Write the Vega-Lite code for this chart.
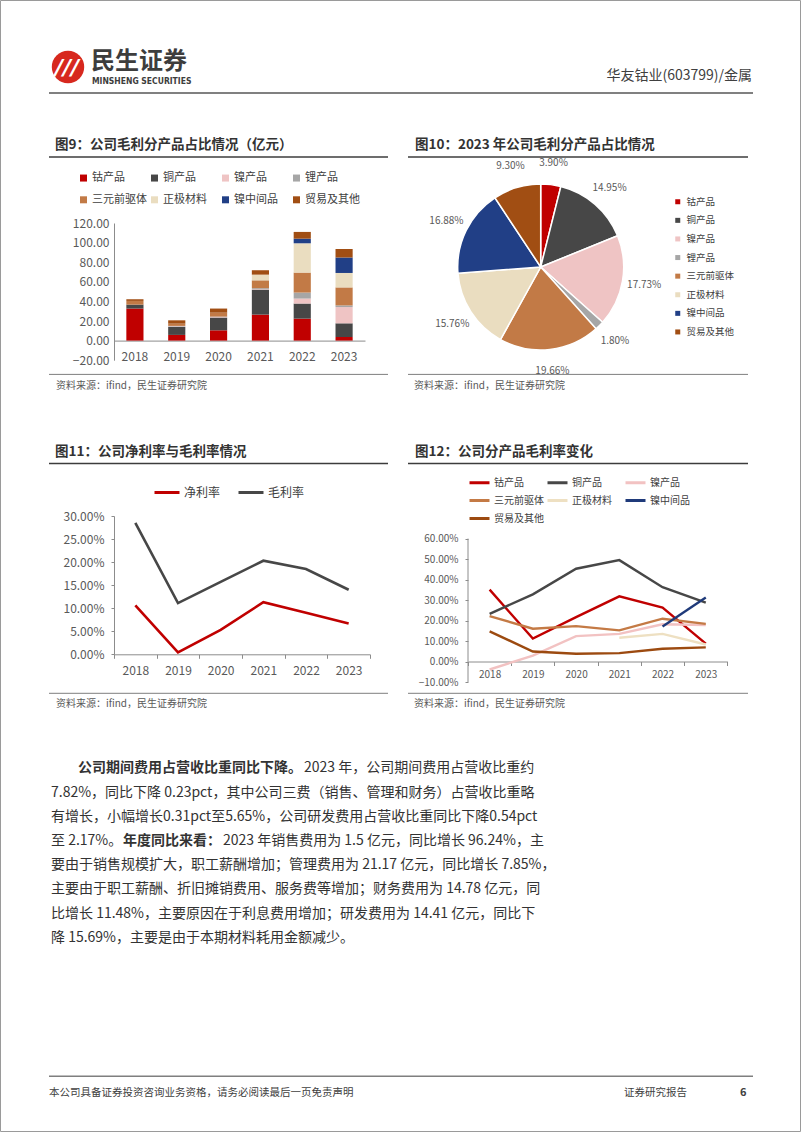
{
  "$schema": "https://vega.github.io/schema/vega-lite/v6.json",
  "padding": 0,
  "background": "white",
  "columns": 4,
  "spacing": 0,
  "bounds": "flush",
  "align": "each",
  "resolve": {"scale": {"color": "independent", "x": "independent", "y": "independent"}, "legend": {"color": "independent"}},
  "config": {
    "view": {"stroke": null},
    "font": "Noto Sans CJK SC",
    "axis": {"labelFont": "Noto Sans CJK SC", "labelOverlap": false},
    "legend": {"labelFont": "Noto Sans CJK SC", "padding": 0}
  },
  "concat": [
    {
      "width": 114, "height": 222.7,
      "layer": [
        {"data": {"values": [{"k": 1}]}, "mark": {"type": "rect", "filled": false, "stroke": "#9a9a9a", "strokeWidth": 1}, "encoding": {"x": {"value": 0.5}, "x2": {"value": 800.5}, "y": {"value": 0.5}, "y2": {"value": 1131.5}}},
        {"data": {"values": [{"k": 1}]}, "mark": {"type": "point", "filled": true, "color": "#D7281E", "size": 1050, "opacity": 1}, "encoding": {"x": {"value": 68}, "y": {"value": 67}}},
        {"data": {"values": [{"t": "///"}]}, "mark": {"type": "text", "align": "center", "baseline": "middle", "fontSize": 22, "fontWeight": "bold", "fontStyle": "italic", "color": "white", "font": "DejaVu Sans"}, "encoding": {"text": {"field": "t"}, "x": {"value": 67}, "y": {"value": 68}}},
        {"data": {"values": [{"t": "民生证券"}]}, "mark": {"type": "text", "align": "left", "baseline": "middle", "fontSize": 24, "fontWeight": "bold", "color": "#3d3d3d"}, "encoding": {"text": {"field": "t"}, "x": {"value": 91}, "y": {"value": 62}}},
        {"data": {"values": [{"t": "MINSHENG SECURITIES"}]}, "mark": {"type": "text", "align": "left", "baseline": "middle", "fontSize": 8.5, "fontWeight": "bold", "color": "#3d3d3d", "font": "DejaVu Sans Condensed, DejaVu Sans"}, "encoding": {"text": {"field": "t"}, "x": {"value": 92}, "y": {"value": 81}}},
        {"data": {"values": [{"t": "华友钴业(603799)/金属"}]}, "mark": {"type": "text", "align": "right", "baseline": "middle", "fontSize": 14, "color": "#404040"}, "encoding": {"text": {"field": "t"}, "x": {"value": 752}, "y": {"value": 76}}},
        {"data": {"values": [{"k": 1}]}, "mark": {"type": "rule", "color": "#808080", "strokeWidth": 2}, "encoding": {"x": {"value": 49}, "x2": {"value": 753}, "y": {"value": 93}}},

        {"data": {"values": [{"t": "图9：公司毛利分产品占比情况（亿元）"}]}, "mark": {"type": "text", "align": "left", "baseline": "middle", "fontSize": 13.5, "fontWeight": "bold", "color": "#333333"}, "encoding": {"text": {"field": "t"}, "x": {"value": 55}, "y": {"value": 145}}},
        {"data": {"values": [{"k": 1}]}, "mark": {"type": "rule", "color": "#3c3c3c", "strokeWidth": 1.5}, "encoding": {"x": {"value": 49}, "x2": {"value": 388}, "y": {"value": 157}}},
        {"data": {"values": [{"t": "图10：2023 年公司毛利分产品占比情况"}]}, "mark": {"type": "text", "align": "left", "baseline": "middle", "fontSize": 13.5, "fontWeight": "bold", "color": "#333333"}, "encoding": {"text": {"field": "t"}, "x": {"value": 415}, "y": {"value": 145}}},
        {"data": {"values": [{"k": 1}]}, "mark": {"type": "rule", "color": "#3c3c3c", "strokeWidth": 1.5}, "encoding": {"x": {"value": 408}, "x2": {"value": 748}, "y": {"value": 157}}},

        {"data": {"values": [{"k": 1}]}, "mark": {"type": "rule", "color": "#7f7f7f", "strokeWidth": 1}, "encoding": {"x": {"value": 49}, "x2": {"value": 388}, "y": {"value": 374.4}}},
        {"data": {"values": [{"k": 1}]}, "mark": {"type": "rule", "color": "#7f7f7f", "strokeWidth": 1}, "encoding": {"x": {"value": 408}, "x2": {"value": 748}, "y": {"value": 374.4}}},
        {"data": {"values": [{"t": "资料来源：ifind，民生证券研究院"}]}, "mark": {"type": "text", "align": "left", "baseline": "middle", "fontSize": 10, "color": "#595959"}, "encoding": {"text": {"field": "t"}, "x": {"value": 56}, "y": {"value": 386}}},
        {"data": {"values": [{"t": "资料来源：ifind，民生证券研究院"}]}, "mark": {"type": "text", "align": "left", "baseline": "middle", "fontSize": 10, "color": "#595959"}, "encoding": {"text": {"field": "t"}, "x": {"value": 414}, "y": {"value": 386}}},

        {"data": {"values": [{"t": "图11：公司净利率与毛利率情况"}]}, "mark": {"type": "text", "align": "left", "baseline": "middle", "fontSize": 13.5, "fontWeight": "bold", "color": "#333333"}, "encoding": {"text": {"field": "t"}, "x": {"value": 55}, "y": {"value": 452}}},
        {"data": {"values": [{"k": 1}]}, "mark": {"type": "rule", "color": "#3c3c3c", "strokeWidth": 1.5}, "encoding": {"x": {"value": 49}, "x2": {"value": 388}, "y": {"value": 463.5}}},
        {"data": {"values": [{"t": "图12：公司分产品毛利率变化"}]}, "mark": {"type": "text", "align": "left", "baseline": "middle", "fontSize": 13.5, "fontWeight": "bold", "color": "#333333"}, "encoding": {"text": {"field": "t"}, "x": {"value": 415}, "y": {"value": 452}}},
        {"data": {"values": [{"k": 1}]}, "mark": {"type": "rule", "color": "#3c3c3c", "strokeWidth": 1.5}, "encoding": {"x": {"value": 408}, "x2": {"value": 748}, "y": {"value": 463.5}}},

        {"data": {"values": [{"k": 1}]}, "mark": {"type": "rule", "color": "#7f7f7f", "strokeWidth": 1}, "encoding": {"x": {"value": 49}, "x2": {"value": 388}, "y": {"value": 693.3}}},
        {"data": {"values": [{"k": 1}]}, "mark": {"type": "rule", "color": "#7f7f7f", "strokeWidth": 1}, "encoding": {"x": {"value": 408}, "x2": {"value": 748}, "y": {"value": 693.3}}},
        {"data": {"values": [{"t": "资料来源：ifind，民生证券研究院"}]}, "mark": {"type": "text", "align": "left", "baseline": "middle", "fontSize": 10, "color": "#595959"}, "encoding": {"text": {"field": "t"}, "x": {"value": 56}, "y": {"value": 704.2}}},
        {"data": {"values": [{"t": "资料来源：ifind，民生证券研究院"}]}, "mark": {"type": "text", "align": "left", "baseline": "middle", "fontSize": 10, "color": "#595959"}, "encoding": {"text": {"field": "t"}, "x": {"value": 414}, "y": {"value": 704.2}}},

        {
          "data": {"values": [
            {"line": 1, "seg": "b1", "t": "公司期间费用占营收比重同比下降。"},
            {"line": 1, "seg": "n1", "t": "2023 年，公司期间费用占营收比重约"},
            {"line": 2, "seg": "main", "t": "7.82%，同比下降 0.23pct，其中公司三费（销售、管理和财务）占营收比重略"},
            {"line": 3, "seg": "main", "t": "有增长，小幅增长0.31pct至5.65%，公司研发费用占营收比重同比下降0.54pct"},
            {"line": 4, "seg": "n4a", "t": "至 2.17%。"},
            {"line": 4, "seg": "b4", "t": "年度同比来看："},
            {"line": 4, "seg": "n4b", "t": "2023 年销售费用为 1.5 亿元，同比增长 96.24%，主"},
            {"line": 5, "seg": "main", "t": "要由于销售规模扩大，职工薪酬增加；管理费用为 21.17 亿元，同比增长 7.85%，"},
            {"line": 6, "seg": "main", "t": "主要由于职工薪酬、折旧摊销费用、服务费等增加；财务费用为 14.78 亿元，同"},
            {"line": 7, "seg": "main", "t": "比增长 11.48%，主要原因在于利息费用增加；研发费用为 14.41 亿元，同比下"},
            {"line": 8, "seg": "main", "t": "降 15.69%，主要是由于本期材料耗用金额减少。"}
          ]},
          "encoding": {
            "y": {"field": "line", "type": "ordinal", "axis": null, "scale": {"type": "point", "padding": 0, "domain": [1, 2, 3, 4, 5, 6, 7, 8], "range": [768.3, 937.7]}},
            "text": {"field": "t"}
          },
          "layer": [
            {"transform": [{"filter": "datum.seg === 'main'"}], "mark": {"type": "text", "align": "left", "baseline": "middle", "fontSize": 14, "color": "#333333"}, "encoding": {"x": {"value": 51}}},
            {"transform": [{"filter": "datum.seg === 'b1'"}], "mark": {"type": "text", "align": "left", "baseline": "middle", "fontSize": 14, "fontWeight": "bold", "color": "#333333"}, "encoding": {"x": {"value": 78}}},
            {"transform": [{"filter": "datum.seg === 'n1'"}], "mark": {"type": "text", "align": "left", "baseline": "middle", "fontSize": 14, "color": "#333333"}, "encoding": {"x": {"value": 304}}},
            {"transform": [{"filter": "datum.seg === 'n4a'"}], "mark": {"type": "text", "align": "left", "baseline": "middle", "fontSize": 14, "color": "#333333"}, "encoding": {"x": {"value": 51}}},
            {"transform": [{"filter": "datum.seg === 'b4'"}], "mark": {"type": "text", "align": "left", "baseline": "middle", "fontSize": 14, "fontWeight": "bold", "color": "#333333"}, "encoding": {"x": {"value": 123}}},
            {"transform": [{"filter": "datum.seg === 'n4b'"}], "mark": {"type": "text", "align": "left", "baseline": "middle", "fontSize": 14, "color": "#333333"}, "encoding": {"x": {"value": 223}}}
          ]
        },

        {"data": {"values": [{"k": 1}]}, "mark": {"type": "rule", "color": "#7f7f7f", "strokeWidth": 1.5}, "encoding": {"x": {"value": 49}, "x2": {"value": 753}, "y": {"value": 1076.2}}},
        {"data": {"values": [{"t": "本公司具备证券投资咨询业务资格，请务必阅读最后一页免责声明"}]}, "mark": {"type": "text", "align": "left", "baseline": "middle", "fontSize": 10.5, "color": "#404040"}, "encoding": {"text": {"field": "t"}, "x": {"value": 49}, "y": {"value": 1093.2}}},
        {"data": {"values": [{"t": "证券研究报告"}]}, "mark": {"type": "text", "align": "left", "baseline": "middle", "fontSize": 10.5, "color": "#404040"}, "encoding": {"text": {"field": "t"}, "x": {"value": 624}, "y": {"value": 1093.2}}},
        {"data": {"values": [{"t": "6"}]}, "mark": {"type": "text", "align": "left", "baseline": "middle", "fontSize": 11, "fontWeight": "bold", "color": "#404040"}, "encoding": {"text": {"field": "t"}, "x": {"value": 740}, "y": {"value": 1093.2}}}
      ]
    },
    {"width": 1, "height": 1, "data": {"values": []}, "mark": "text"},
    {"width": 1, "height": 1, "data": {"values": []}, "mark": "text"},
    {"width": 1, "height": 1, "data": {"values": []}, "mark": "text"},

    {"width": 114, "height": 293, "data": {"values": []}, "mark": "text"},
    {
      "width": 251, "height": 137.2,
      "data": {"values": [
        {"year": "2018", "product": "钴产品", "idx": 0, "value": 32.7},
        {"year": "2018", "product": "铜产品", "idx": 1, "value": 4.0},
        {"year": "2018", "product": "三元前驱体", "idx": 4, "value": 3.8},
        {"year": "2018", "product": "贸易及其他", "idx": 7, "value": 1.7},
        {"year": "2019", "product": "钴产品", "idx": 0, "value": 5.8},
        {"year": "2019", "product": "铜产品", "idx": 1, "value": 8.2},
        {"year": "2019", "product": "镍产品", "idx": 2, "value": 0.5},
        {"year": "2019", "product": "锂产品", "idx": 3, "value": 0.5},
        {"year": "2019", "product": "三元前驱体", "idx": 4, "value": 2.3},
        {"year": "2019", "product": "贸易及其他", "idx": 7, "value": 3.4},
        {"year": "2020", "product": "钴产品", "idx": 0, "value": 10.5},
        {"year": "2020", "product": "铜产品", "idx": 1, "value": 13.0},
        {"year": "2020", "product": "镍产品", "idx": 2, "value": 0.5},
        {"year": "2020", "product": "锂产品", "idx": 3, "value": 0.5},
        {"year": "2020", "product": "三元前驱体", "idx": 4, "value": 4.0},
        {"year": "2020", "product": "贸易及其他", "idx": 7, "value": 4.2},
        {"year": "2021", "product": "钴产品", "idx": 0, "value": 26.5},
        {"year": "2021", "product": "铜产品", "idx": 1, "value": 25.5},
        {"year": "2021", "product": "镍产品", "idx": 2, "value": 0.5},
        {"year": "2021", "product": "锂产品", "idx": 3, "value": 1.0},
        {"year": "2021", "product": "三元前驱体", "idx": 4, "value": 8.0},
        {"year": "2021", "product": "正极材料", "idx": 5, "value": 5.8},
        {"year": "2021", "product": "贸易及其他", "idx": 7, "value": 4.5},
        {"year": "2022", "product": "钴产品", "idx": 0, "value": 22.4},
        {"year": "2022", "product": "铜产品", "idx": 1, "value": 15.4},
        {"year": "2022", "product": "镍产品", "idx": 2, "value": 5.1},
        {"year": "2022", "product": "锂产品", "idx": 3, "value": 6.1},
        {"year": "2022", "product": "三元前驱体", "idx": 4, "value": 20.4},
        {"year": "2022", "product": "正极材料", "idx": 5, "value": 29.9},
        {"year": "2022", "product": "镍中间品", "idx": 6, "value": 4.7},
        {"year": "2022", "product": "贸易及其他", "idx": 7, "value": 6.9},
        {"year": "2023", "product": "钴产品", "idx": 0, "value": 3.65},
        {"year": "2023", "product": "铜产品", "idx": 1, "value": 13.98},
        {"year": "2023", "product": "镍产品", "idx": 2, "value": 16.58},
        {"year": "2023", "product": "锂产品", "idx": 3, "value": 1.68},
        {"year": "2023", "product": "三元前驱体", "idx": 4, "value": 18.38},
        {"year": "2023", "product": "正极材料", "idx": 5, "value": 14.74},
        {"year": "2023", "product": "镍中间品", "idx": 6, "value": 15.78},
        {"year": "2023", "product": "贸易及其他", "idx": 7, "value": 8.70}
      ]},
      "mark": {"type": "bar"},
      "encoding": {
        "x": {"field": "year", "type": "ordinal", "scale": {"type": "band", "paddingInner": 0.59, "paddingOuter": 0.295},
          "axis": {"title": null, "orient": "bottom", "offset": -19.6, "labelAngle": 0, "domain": true, "domainColor": "#8c8c8c", "ticks": false, "labelFontSize": 12, "labelColor": "#595959", "labelPadding": 11}},
        "y": {"field": "value", "type": "quantitative", "stack": "zero", "scale": {"domain": [-20, 120], "nice": false, "zero": false},
          "axis": {"title": null, "values": [-20, 0, 20, 40, 60, 80, 100, 120], "format": ".2f", "grid": false, "domain": true, "domainColor": "#8c8c8c", "ticks": false, "labelFontSize": 12, "labelColor": "#595959", "labelPadding": 5}},
        "color": {"field": "product", "type": "nominal",
          "scale": {"domain": ["钴产品", "铜产品", "镍产品", "锂产品", "三元前驱体", "正极材料", "镍中间品", "贸易及其他"], "range": ["#C00000", "#474747", "#EFC4C4", "#A6A6A6", "#C27A46", "#EADDC0", "#213F86", "#A14E13"]},
          "legend": {"title": null, "orient": "none", "legendX": -36, "legendY": -50.7, "direction": "horizontal", "columns": 4, "gridAlign": "all", "symbolType": "square", "symbolSize": 49, "symbolStrokeWidth": 0, "labelFontSize": 11, "labelColor": "#404040", "columnPadding": 2, "rowPadding": 10, "labelOffset": 3}},
        "order": {"field": "idx", "type": "quantitative"}
      }
    },
    {"width": 97.3, "height": 1, "data": {"values": []}, "mark": "text"},
    {
      "width": 145.4, "height": 88,
      "data": {"values": [
        {"product": "钴产品", "share": 0.039, "idx": 0},
        {"product": "铜产品", "share": 0.1495, "idx": 1},
        {"product": "镍产品", "share": 0.1773, "idx": 2},
        {"product": "锂产品", "share": 0.018, "idx": 3},
        {"product": "三元前驱体", "share": 0.1966, "idx": 4},
        {"product": "正极材料", "share": 0.1576, "idx": 5},
        {"product": "镍中间品", "share": 0.1688, "idx": 6},
        {"product": "贸易及其他", "share": 0.093, "idx": 7}
      ]},
      "encoding": {
        "theta": {"field": "share", "type": "quantitative", "stack": true},
        "order": {"field": "idx", "type": "quantitative"}
      },
      "layer": [
        {
          "mark": {"type": "arc", "outerRadius": 83, "stroke": "white", "strokeWidth": 1.5},
          "encoding": {
            "color": {"field": "product", "type": "nominal",
              "scale": {"domain": ["钴产品", "铜产品", "镍产品", "锂产品", "三元前驱体", "正极材料", "镍中间品", "贸易及其他"], "range": ["#C00000", "#474747", "#EFC4C4", "#A6A6A6", "#C27A46", "#EADDC0", "#213F86", "#A14E13"]},
              "legend": {"title": null, "orient": "none", "legendX": 205, "legendY": -26, "direction": "vertical", "symbolType": "square", "symbolSize": 25, "symbolStrokeWidth": 0, "labelFontSize": 9.5, "labelColor": "#404040", "rowPadding": 7.6, "labelOffset": 4}}
          }
        },
        {
          "mark": {"type": "text", "radius": 105, "fontSize": 10, "color": "#595959"},
          "encoding": {"text": {"field": "share", "type": "quantitative", "format": ".2%"}, "detail": {"field": "product"}}
        }
      ]
    },

    {"width": 114, "height": 166, "data": {"values": []}, "mark": "text"},
    {
      "width": 256, "height": 138.3,
      "data": {"values": [
        {"year": "2018", "series": "净利率", "rate": 0.106},
        {"year": "2019", "series": "净利率", "rate": 0.004},
        {"year": "2020", "series": "净利率", "rate": 0.053},
        {"year": "2021", "series": "净利率", "rate": 0.113},
        {"year": "2022", "series": "净利率", "rate": 0.090},
        {"year": "2023", "series": "净利率", "rate": 0.067},
        {"year": "2018", "series": "毛利率", "rate": 0.285},
        {"year": "2019", "series": "毛利率", "rate": 0.111},
        {"year": "2020", "series": "毛利率", "rate": 0.157},
        {"year": "2021", "series": "毛利率", "rate": 0.203},
        {"year": "2022", "series": "毛利率", "rate": 0.185},
        {"year": "2023", "series": "毛利率", "rate": 0.140}
      ]},
      "mark": {"type": "line", "strokeWidth": 2.6},
      "encoding": {
        "x": {"field": "year", "type": "ordinal", "scale": {"type": "band", "paddingInner": 0, "paddingOuter": 0},
          "axis": {"title": null, "labelAngle": 0, "domain": true, "domainColor": "#8c8c8c", "ticks": true, "tickBand": "extent", "tickSize": 4, "tickColor": "#8c8c8c", "labelFontSize": 12, "labelColor": "#595959", "labelPadding": 7}},
        "y": {"field": "rate", "type": "quantitative", "scale": {"domain": [0, 0.3], "nice": false},
          "axis": {"title": null, "values": [0, 0.05, 0.1, 0.15, 0.2, 0.25, 0.3], "format": ".2%", "grid": false, "domain": true, "domainColor": "#8c8c8c", "ticks": true, "tickSize": 3, "tickColor": "#8c8c8c", "labelFontSize": 12, "labelColor": "#595959", "labelPadding": 7}},
        "color": {"field": "series", "type": "nominal",
          "scale": {"domain": ["净利率", "毛利率"], "range": ["#C00000", "#474747"]},
          "legend": {"title": null, "orient": "none", "legendX": 39, "legendY": -37.5, "direction": "horizontal", "symbolType": "stroke", "symbolSize": 625, "symbolStrokeWidth": 3, "labelFontSize": 12, "labelColor": "#404040", "labelOffset": 3, "columnPadding": 11}}
      }
    },
    {"width": 1, "height": 1, "data": {"values": []}, "mark": "text"},
    {
      "width": 259.4, "height": 166,
      "data": {"values": [
        {"year": "2018", "product": "钴产品", "rate": 0.351},
        {"year": "2019", "product": "钴产品", "rate": 0.112},
        {"year": "2020", "product": "钴产品", "rate": 0.217},
        {"year": "2021", "product": "钴产品", "rate": 0.318},
        {"year": "2022", "product": "钴产品", "rate": 0.263},
        {"year": "2023", "product": "钴产品", "rate": 0.087},
        {"year": "2018", "product": "铜产品", "rate": 0.233},
        {"year": "2019", "product": "铜产品", "rate": 0.328},
        {"year": "2020", "product": "铜产品", "rate": 0.453},
        {"year": "2021", "product": "铜产品", "rate": 0.495},
        {"year": "2022", "product": "铜产品", "rate": 0.363},
        {"year": "2023", "product": "铜产品", "rate": 0.287},
        {"year": "2018", "product": "镍产品", "rate": -0.039},
        {"year": "2019", "product": "镍产品", "rate": 0.029},
        {"year": "2020", "product": "镍产品", "rate": 0.124},
        {"year": "2021", "product": "镍产品", "rate": 0.135},
        {"year": "2022", "product": "镍产品", "rate": 0.182},
        {"year": "2023", "product": "镍产品", "rate": 0.178},
        {"year": "2018", "product": "三元前驱体", "rate": 0.222},
        {"year": "2019", "product": "三元前驱体", "rate": 0.160},
        {"year": "2020", "product": "三元前驱体", "rate": 0.173},
        {"year": "2021", "product": "三元前驱体", "rate": 0.152},
        {"year": "2022", "product": "三元前驱体", "rate": 0.209},
        {"year": "2023", "product": "三元前驱体", "rate": 0.184},
        {"year": "2021", "product": "正极材料", "rate": 0.116},
        {"year": "2022", "product": "正极材料", "rate": 0.135},
        {"year": "2023", "product": "正极材料", "rate": 0.083},
        {"year": "2022", "product": "镍中间品", "rate": 0.171},
        {"year": "2023", "product": "镍中间品", "rate": 0.312},
        {"year": "2018", "product": "贸易及其他", "rate": 0.147},
        {"year": "2019", "product": "贸易及其他", "rate": 0.049},
        {"year": "2020", "product": "贸易及其他", "rate": 0.038},
        {"year": "2021", "product": "贸易及其他", "rate": 0.041},
        {"year": "2022", "product": "贸易及其他", "rate": 0.062},
        {"year": "2023", "product": "贸易及其他", "rate": 0.069}
      ]},
      "layer": [
        {
          "mark": {"type": "line", "strokeWidth": 2.4},
          "encoding": {
            "x": {"field": "year", "type": "ordinal", "scale": {"type": "band", "paddingInner": 0, "paddingOuter": 0, "domain": ["2018", "2019", "2020", "2021", "2022", "2023"]},
              "axis": {"title": null, "labelAngle": 0, "offset": -20.5, "domain": true, "domainColor": "#8c8c8c", "ticks": true, "tickBand": "extent", "tickSize": 4, "tickColor": "#8c8c8c", "labelFontSize": 10, "labelColor": "#595959", "labelPadding": 4}},
            "y": {"field": "rate", "type": "quantitative", "scale": {"domain": [-0.1, 0.7105], "nice": false, "zero": false},
              "axis": {"title": null, "values": [-0.1, 0, 0.1, 0.2, 0.3, 0.4, 0.5, 0.6], "format": ".2%", "grid": false, "domain": false, "ticks": true, "tickSize": 3, "tickColor": "#8c8c8c", "labelFontSize": 10, "labelColor": "#595959", "labelPadding": 7, "labelOverlap": false}},
            "color": {"field": "product", "type": "nominal",
              "scale": {"domain": ["钴产品", "铜产品", "镍产品", "三元前驱体", "正极材料", "镍中间品", "贸易及其他"], "range": ["#C00000", "#474747", "#F2C2C2", "#C47A45", "#EEE0C2", "#1F3A7A", "#9C4A10"]},
              "legend": {"title": null, "orient": "none", "legendX": 0, "legendY": -45, "direction": "horizontal", "columns": 3, "gridAlign": "all", "symbolType": "stroke", "symbolSize": 400, "symbolStrokeWidth": 3, "labelFontSize": 10, "labelColor": "#404040", "labelOffset": 3, "columnPadding": -3, "rowPadding": -1.2}}
          }
        },
        {
          "data": {"values": [{"k": 1}]},
          "mark": {"type": "rule", "color": "#8c8c8c", "strokeWidth": 1},
          "encoding": {"x": {"value": 0}, "y": {"value": 22.6}, "y2": {"value": 166}}
        }
      ]
    }
  ]
}
